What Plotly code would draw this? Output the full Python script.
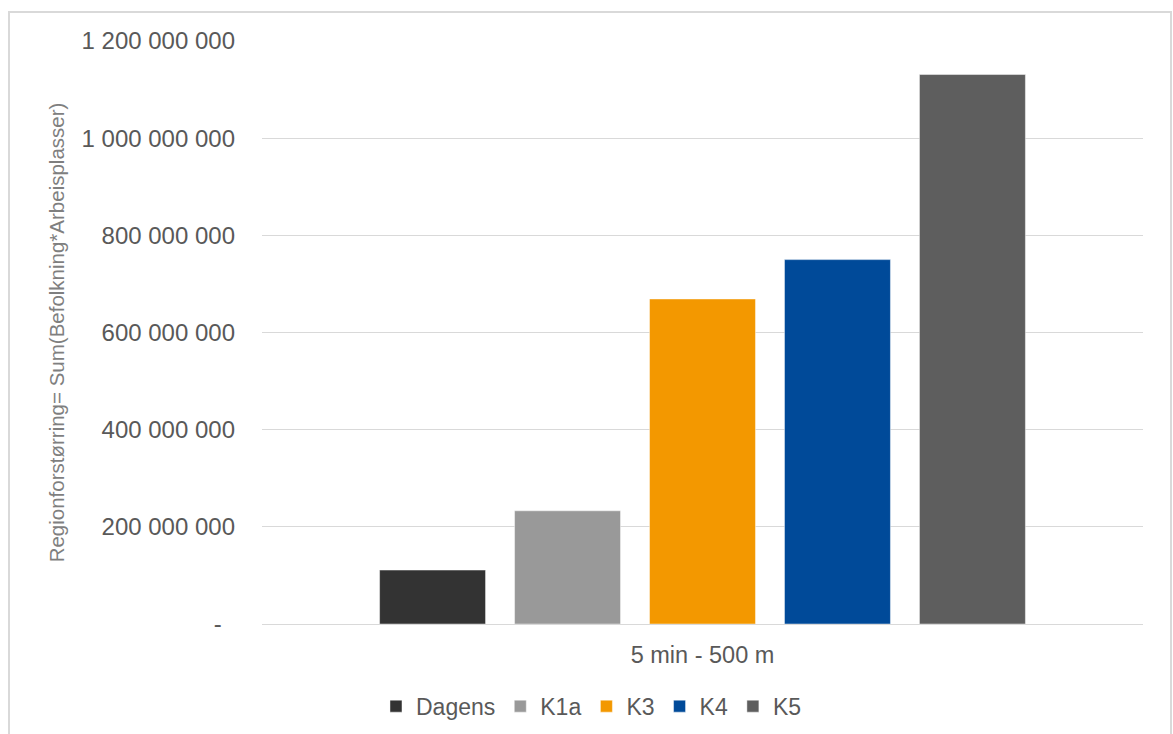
import plotly.graph_objects as go

# Region enlargement within 5 min / 500 m
category = ["5 min - 500 m"]
series_names = ["Dagens", "K1a", "K3", "K4", "K5"]
series_values = [111_000_000, 233_000_000, 669_000_000, 750_000_000, 1_131_000_000]
series_colors = ["#333333", "#999999", "#F39800", "#004A99", "#5E5E5E"]

y_tickvals = [0, 200_000_000, 400_000_000, 600_000_000, 800_000_000, 1_000_000_000, 1_200_000_000]
y_ticktext = ["-\u00a0\u00a0", "200 000 000", "400 000 000", "600 000 000",
              "800 000 000", "1 000 000 000", "1 200 000 000"]

FONT = "Arial, 'Liberation Sans', sans-serif"
W, H = 1173, 734
ML, MR, MT, MB = 262, 30, 41, 110
plot_w = W - ML - MR
plot_h = H - MT - MB

fig = go.Figure()
for name, val, col in zip(series_names, series_values, series_colors):
    fig.add_trace(go.Bar(
        name=name, x=category, y=[val],
        marker=dict(color=col, line=dict(color="rgba(255,255,255,0.45)", width=1)),
    ))

# outer chart border
fig.add_shape(type="rect", xref="paper", yref="paper",
              x0=(9 - ML) / plot_w, x1=(1171 - ML) / plot_w,
              y0=(H - MB - 745) / plot_h, y1=(H - MB - 12) / plot_h,
              line=dict(color="#D9D9D9", width=2), fillcolor="rgba(0,0,0,0)", layer="below")

fig.update_layout(
    width=W, height=H,
    margin=dict(l=ML, r=MR, t=MT, b=MB, autoexpand=False),
    paper_bgcolor="white", plot_bgcolor="white",
    barmode="group", bargap=0.234, bargroupgap=0.215,
    font=dict(family=FONT, color="#595959", size=23),
    showlegend=True,
    legend=dict(orientation="h", x=0.374, xanchor="center", y=-0.141, yanchor="middle",
                font=dict(size=23, color="#595959"), itemwidth=30, traceorder="normal"),
    xaxis=dict(showgrid=False, showline=False, ticks="", ticklabelstandoff=14,
               tickfont=dict(size=23.5, color="#595959")),
    yaxis=dict(range=[0, 1_200_000_000], tickvals=y_tickvals, ticktext=y_ticktext,
               showgrid=True, gridcolor="#D9D9D9", gridwidth=1,
               zeroline=True, zerolinecolor="#D9D9D9", zerolinewidth=1,
               showline=False, ticks="", ticklabelstandoff=26,
               tickfont=dict(size=24, color="#595959"),
               title=dict(text="Regionforstørring= Sum(Befolkning*Arbeisplasser)",
                          font=dict(size=20.5, color="#7F7F7F"), standoff=11)),
)

fig.write_html("out.html")
